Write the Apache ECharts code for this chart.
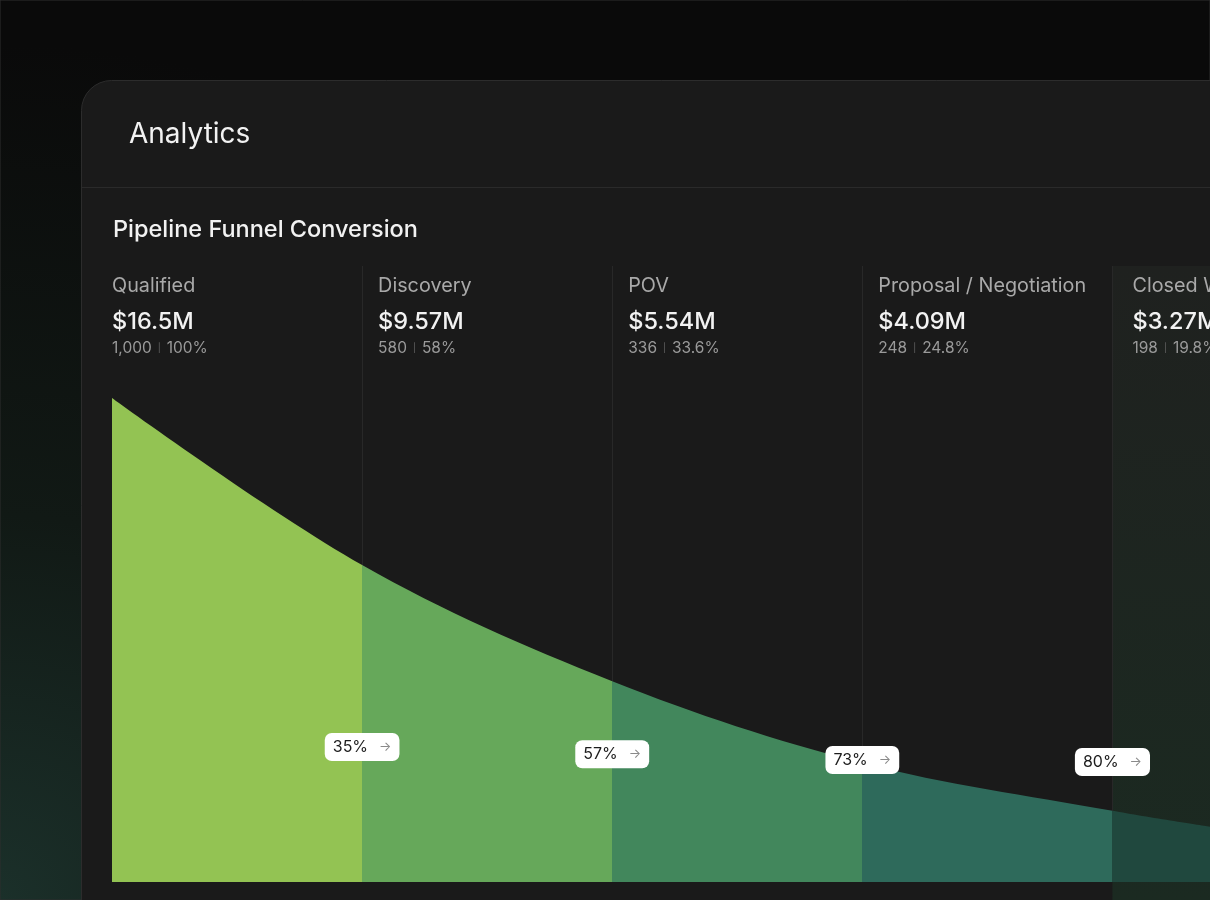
<!DOCTYPE html>
<html><head><meta charset="utf-8">
<script src="https://cdn.jsdelivr.net/npm/echarts@6/dist/echarts.min.js"></script>
<style>html,body{margin:0;padding:0;background:#0a0a0a;overflow:hidden}#c{width:1210px;height:900px}</style>
</head><body><div id="c"></div><script>
// ---- data ----
const stages = ['Qualified', 'Discovery', 'POV', 'Proposal / Negotiation', 'Closed Won'];
const amounts = ['$16.5M', '$9.57M', '$5.54M', '$4.09M', '$3.27M'];
const counts = ['1,000', '580', '336', '248', '198'];
const shares = ['100%', '58%', '33.6%', '24.8%', '19.8%'];
const conversions = ['35%', '57%', '73%', '80%'];
// funnel curve: stage position (0 = Qualified start) -> relative height (%)
const curveX = [0, 1, 2, 3, 4, 4.39];
const curveVal = [100, 65.5, 41.5, 24.6, 14.7, 11.4];

// ---- layout / style ----
const FONT = 'Inter, "Noto Sans", sans-serif';
const stageColors = ['#93c353', '#66a85a', '#42875c', '#2e6a5b', '#20483e'];
const gridTop = 266, gridBottomPx = 882, curveTopPx = 398;
const yMax = 100 * (gridBottomPx - gridTop) / (gridBottomPx - curveTopPx);
const xMax = 4.39;
const badgeLevel = [27.9, 26.4, 25.2, 24.8];

const chart = echarts.init(document.getElementById('c'), null, {renderer: 'canvas'});

const pieces = stageColors.map((c, i) => i < stageColors.length - 1
  ? {gte: i, lt: i + 1, color: c}
  : {gte: i, lte: 100, color: c});

const option = {
  animation: false,
  grid: {left: 112, right: 0, top: gridTop, bottom: 900 - gridBottomPx},
  xAxis: {type: 'value', min: 0, max: xMax, show: false},
  yAxis: {type: 'value', min: 0, max: yMax, show: false},
  visualMap: {type: 'piecewise', show: false, dimension: 0, seriesIndex: 1, pieces: pieces},
  series: [
    {
      type: 'custom', z: 1, silent: true,
      data: stages.map((s, i) => [i]),
      renderItem(params, api) {
        const i = api.value(0);
        const top = api.coord([i, yMax]);
        const bot = api.coord([i, 0]);
        const cs = params.coordSys;
        const children = [];
        if (i === stages.length - 1) {
          children.push({type: 'rect', shape: {x: top[0], y: top[1], width: cs.x + cs.width - top[0], height: 900 - top[1]},
            style: {fill: new echarts.graphic.LinearGradient(0, 0, 0, 1, [
              {offset: 0, color: '#1f211f'}, {offset: 1, color: '#1b2a21'}])}});
        }
        if (i > 0) {
          const x = Math.round(top[0]) + 0.5;
          children.push({type: 'line', shape: {x1: x, y1: top[1], x2: x, y2: bot[1]},
            style: {stroke: '#282828', lineWidth: 1}});
        }
        return {type: 'group', children};
      }
    },
    {
      type: 'line', z: 2,
      data: curveX.map((x, i) => [x, curveVal[i]]),
      smooth: 0.35,
      showSymbol: false, silent: true,
      lineStyle: {width: 0},
      areaStyle: {opacity: 1},
      markPoint: {
        silent: true,
        symbol: 'circle', symbolSize: 0,
        label: {
          show: true, position: 'inside',
          backgroundColor: '#ffffff', borderRadius: 7, padding: [6, 8, 6, 8],
          formatter: p => '{a|' + p.name + '}{b|→}',
          rich: {
            a: {fontFamily: FONT, fontSize: 16, color: '#1c1c1c', padding: [0, 11, 0, 0]},
            b: {fontFamily: FONT, fontSize: 13, color: '#8a8a8a'}
          }
        },
        data: conversions.map((c, i) => ({name: c, coord: [i + 1, badgeLevel[i]]}))
      }
    }
  ]
};
chart.setOption(option);

// ---- frame, titles and stage headers ----
const g = [];
g.push({type: 'rect', z: -10, silent: true, shape: {x: 0, y: 0, width: 1210, height: 900},
  style: {fill: new echarts.graphic.RadialGradient(0, 1, 0.95, [
    {offset: 0, color: '#1b302a'}, {offset: 0.45, color: '#111915'}, {offset: 1, color: '#0a0a0a'}]),
    stroke: '#2e2e2e', lineWidth: 1}});
g.push({type: 'rect', z: -9, silent: true, shape: {x: 81.5, y: 80.5, width: 1300, height: 900, r: 30},
  style: {fill: '#1a1a1a', stroke: '#2c2c2c', lineWidth: 1}});
g.push({type: 'line', z: -8, silent: true, shape: {x1: 82, y1: 187.5, x2: 1210, y2: 187.5},
  style: {stroke: '#2a2a2a', lineWidth: 1}});
g.push({type: 'text', z: 10, silent: true, x: 129, y: 135,
  style: {text: 'Analytics', fontFamily: FONT, fontSize: 28, fontWeight: 400, fill: '#f2f2f2', verticalAlign: 'middle'}});
g.push({type: 'text', z: 10, silent: true, x: 113, y: 230,
  style: {text: 'Pipeline Funnel Conversion', fontFamily: FONT, fontSize: 23.5, fontWeight: 500, fill: '#f2f2f2', verticalAlign: 'middle'}});

stages.forEach((s, i) => {
  const px = chart.convertToPixel({gridIndex: 0}, [i, 0])[0];
  const x = i === 0 ? px : px + (i === stages.length - 1 ? 20 : 16);
  g.push({type: 'text', z: 10, silent: true, x: x, y: 286,
    style: {text: s, fontFamily: FONT, fontSize: 19.8, fill: '#a9a9a9', verticalAlign: 'middle'}});
  g.push({type: 'text', z: 10, silent: true, x: x, y: 322,
    style: {text: amounts[i], fontFamily: FONT, fontSize: 23.5, fontWeight: 500, fill: '#f2f2f2', verticalAlign: 'middle'}});
  g.push({type: 'text', z: 10, silent: true, x: x, y: 348,
    style: {text: '{n|' + counts[i] + '}{s||}{n|' + shares[i] + '}', verticalAlign: 'middle',
      rich: {n: {fontFamily: FONT, fontSize: 15.5, fill: '#9a9a9a'},
             s: {fontFamily: FONT, fontSize: 9, fill: '#666666', padding: [0, 6, 0, 6]}}}});
});
chart.setOption({graphic: {elements: g}});
</script></body></html>
